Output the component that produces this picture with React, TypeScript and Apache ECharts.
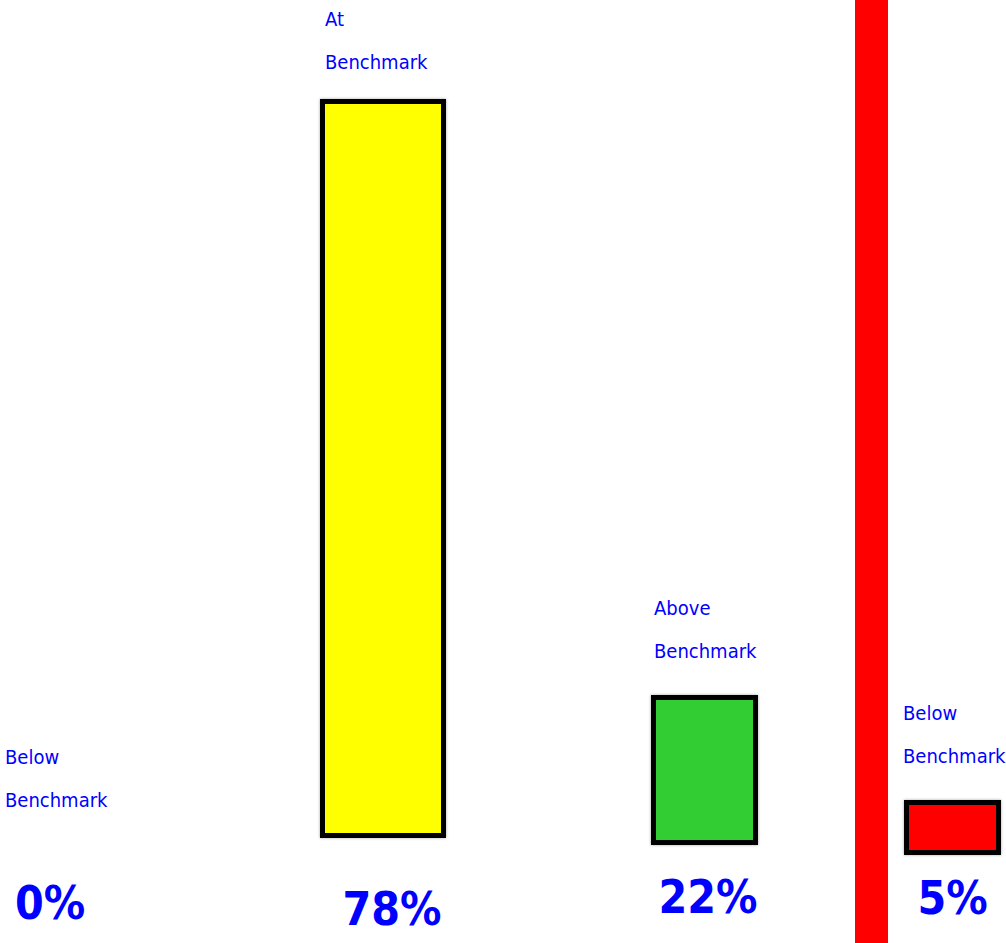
import React, { useEffect, useRef } from "react";
import * as echarts from "echarts";

const categories = ["Below Benchmark", "At Benchmark", "Above Benchmark", "Below Benchmark"];
const values = [0, 78, 22, 5];
const barColors = ["#FF0000", "#FFFF00", "#32CD32", "#FF0000"];
const tickLabels = values.map((v) => `${v}%`);

// layout of each little panel (pixels)
const panels = [
  { left: 0, width: 100, top: 740, height: 100, max: 1, labelPos: [5, -19], margin: 63, pad: 0 },
  { left: 320, width: 126, top: 99, height: 739, max: 78, labelPos: [5, -16], margin: 71, pad: 18 },
  { left: 651, width: 107, top: 695, height: 150, max: 22, labelPos: [3, -23], margin: 52, pad: 7 },
  { left: 904, width: 97, top: 800, height: 55, max: 5, labelPos: [-1, -23], margin: 43, pad: 0 },
];

const FONT = "'DejaVu Sans Condensed', 'DejaVu Sans', sans-serif";
const BLUE = "#0000FF";

export default function App() {
  const ref = useRef<HTMLDivElement>(null);
  useEffect(() => {
    if (!ref.current) return;
    const chart = echarts.init(ref.current, null, { renderer: "svg" });
    const option: any = {
      animation: false,
      backgroundColor: "#FFFFFF",
      grid: panels.map((p) => ({ left: p.left, width: p.width, top: p.top, height: p.height, containLabel: false })),
      xAxis: panels.map((p, k) => ({
        type: "category",
        gridIndex: k,
        data: [categories[k]],
        axisLine: { show: false },
        axisTick: { show: false },
        splitLine: { show: false },
        axisLabel: {
          show: true,
          interval: 0,
          margin: p.margin,
          verticalAlign: "middle",
          padding: [0, 0, 0, p.pad],
          formatter: () => tickLabels[k],
          color: BLUE,
          fontFamily: FONT,
          fontWeight: "bold",
          fontSize: 46,
        },
      })),
      yAxis: panels.map((p, k) => ({
        type: "value",
        gridIndex: k,
        min: 0,
        max: p.max,
        show: false,
      })),
      series: panels.map((p, k) => ({
        type: "bar",
        xAxisIndex: k,
        yAxisIndex: k,
        barWidth: "100%",
        data: [
          {
            value: values[k],
            itemStyle: {
              color: barColors[k],
              borderColor: "#000000",
              borderWidth: values[k] > 0 ? 5 : 0,
              shadowColor: "rgba(0,0,0,0.35)",
              shadowBlur: values[k] > 0 ? 3 : 0,
            },
          },
        ],
        label: {
          show: true,
          position: p.labelPos,
          align: "left",
          verticalAlign: "bottom",
          formatter: () => categories[k].replace(" ", "\n"),
          color: BLUE,
          fontFamily: FONT,
          fontSize: 20,
          lineHeight: 43,
        },
      })),
      graphic: [
        {
          type: "rect",
          shape: { x: 855, y: 0, width: 33, height: 943 },
          style: { fill: "#FF0000" },
          z: -1,
        },
      ],
    };
    chart.setOption(option);
    return () => chart.dispose();
  }, []);
  return (
    <div
      ref={ref}
      style={{ position: "absolute", left: 0, top: 0, width: 1006, height: 943 }}
    />
  );
}
